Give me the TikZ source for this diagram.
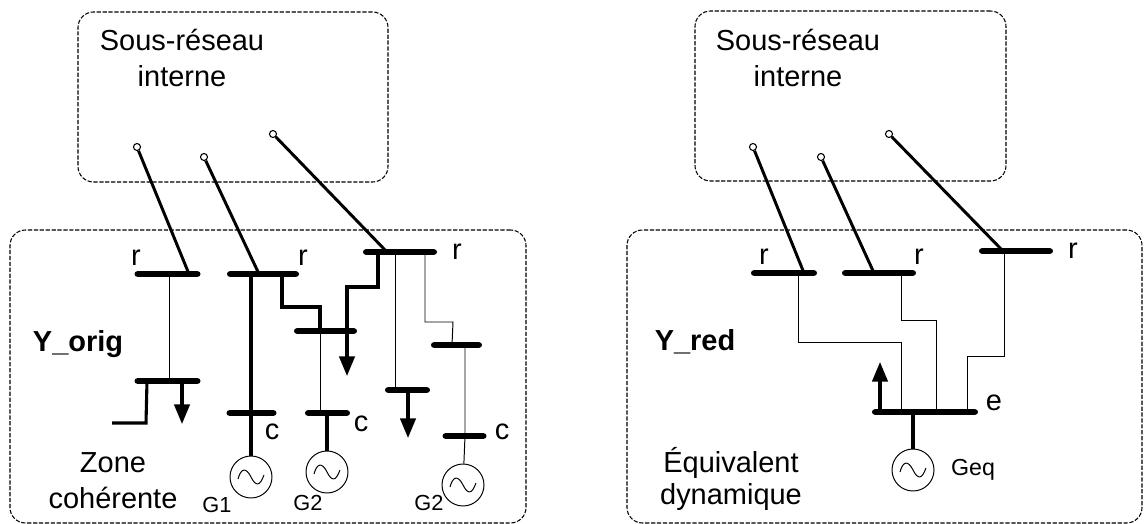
\documentclass[tikz,border=0pt]{standalone}
\usepackage{fontspec}
\setmainfont{Liberation Sans}
\usetikzlibrary{arrows.meta}
\tikzset{
  box/.style={draw,dashed,dash pattern=on 3pt off 1.2pt,line width=.75pt,rounded corners=11pt,inner sep=0pt},
  bus/.style={fill=black,rounded corners=2pt,inner sep=0pt,minimum height=4pt,minimum width=#1*.025cm},
  term/.style={circle,draw,fill=white,line width=.75pt,inner sep=0pt,minimum size=5pt},
  gen/.style={circle,draw,line width=.7pt,inner sep=0pt,minimum size=42*.025cm,
    path picture={\draw[line width=.7pt] (path picture bounding box.center) ++(-13,2)
      .. controls +(3,-11) and +(-5,-10) .. ++(13,-2)
      .. controls +(5,10) and +(-4,11) .. ++(13,-2);}},
  txt/.style={inner sep=0pt,font=\fontsize{20.6}{24}\selectfont},
  small/.style={inner sep=0pt,font=\fontsize{15.5}{18}\selectfont},
  feeder/.style={line width=2.1pt},
  heavy/.style={line width=2.2pt},
  light/.style={line width=.7pt},
  load/.style={line width=2.2pt,-{Triangle[length=14pt,width=11pt]}}
}
\begin{document}
\begin{tikzpicture}[x=.025cm,y=-.025cm]
  \useasboundingbox (0,0) rectangle (1144,524);

  % left side
  \node[box,minimum width=310*.025cm,minimum height=170*.025cm] (sub1) at (233,97) {};
  \node[box,minimum width=516*.025cm,minimum height=293*.025cm] (zone1) at (268,376.5) {};
  \node[txt] (sub1a) at (182,40) {Sous-réseau};
  \node[txt] (sub1b) at (182,76) {interne};

  \node[term] (t1) at (137,147) {};
  \node[term] (t2) at (204,157) {};
  \node[term] (t3) at (273,134) {};

  \node[bus=66] (r1) at (167.5,274) {};
  \node[bus=72] (r2) at (263,274) {};
  \node[bus=74] (r3) at (400,252) {};
  \node[bus=66] (m1) at (167.5,381) {};
  \node[bus=63] (m2) at (325.5,331) {};
  \node[bus=45] (m3) at (407.5,390) {};
  \node[bus=51] (m4) at (456.5,345) {};
  \node[bus=50] (c1) at (251.5,413) {};
  \node[bus=45] (c2) at (327.5,413) {};
  \node[bus=44] (c3) at (464.5,436) {};

  \node[gen] (g1) at (251,477) {};
  \node[gen] (g2) at (327,472) {};
  \node[gen] (g3) at (463,485) {};

  \coordinate (e1) at (112,423);
  \coordinate (l1) at (182,424);
  \coordinate (l2) at (347,376);
  \coordinate (l3) at (408,438);

  \draw[feeder] (t1) -- (189,0 |- r1);
  \draw[feeder] (t2) -- (259,0 |- r2);
  \draw[feeder] (t3) -- (387,0 |- r3);

  \draw[light] (169,0 |- r1) -- (169,0 |- m1);
  \draw[heavy] (147,0 |- m1) -- (146,423) -- (e1);
  \draw[load] (182,0 |- m1) -- (l1);
  \draw[heavy] (251,0 |- r2) -- (g1);
  \draw[heavy] (282,0 |- r2) -- (282,307) -- (320,307) -- (320,0 |- m2);
  \draw[light] (320,0 |- m2) -- (320,0 |- c2);
  \draw[heavy] (327,0 |- c2) -- (g2);
  \draw[heavy] (378,0 |- r3) -- (378,287) -- (347,287) -- (347,0 |- m2);
  \draw[load] (347,0 |- m2) -- (l2);
  \draw[light] (395,0 |- r3) -- (395,0 |- m3);
  \draw[load] (408,0 |- m3) -- (l3);
  \draw[light] (425,0 |- r3) -- (425,322) -- (453,322) -- (452,0 |- m4);
  \draw[light] (465,0 |- m4) -- (465,0 |- c3) -- (g3);

  \node[txt] (lr1) at (136,258) {r};
  \node[txt] (lr2) at (303,258) {r};
  \node[txt] (lr3) at (457,252) {r};
  \node[txt] (lc1) at (272,432) {c};
  \node[txt] (lc2) at (361,424) {c};
  \node[txt] (lc3) at (502,432) {c};
  \node[small] (lg1) at (217,505) {G1};
  \node[small] (lg2) at (308,503) {G2};
  \node[small] (lg3) at (429,503) {G2};
  \node[txt,font=\fontsize{20.6}{24}\selectfont\bfseries] (orig) at (78,344) {Y\_orig};
  \node[txt] (zn1) at (113,463) {Zone};
  \node[txt] (zn2) at (113,498) {cohérente};

  % right side
  \node[box,minimum width=311*.025cm,minimum height=170*.025cm] (sub2) at (850.5,96) {};
  \node[box,minimum width=515*.025cm,minimum height=293*.025cm] (zone2) at (884.5,376.5) {};
  \node[txt] (sub2a) at (798,40) {Sous-réseau};
  \node[txt] (sub2b) at (798,76) {interne};

  \node[term] (t4) at (753,147) {};
  \node[term] (t5) at (821,157) {};
  \node[term] (t6) at (889,134) {};

  \node[bus=66] (r4) at (784,273) {};
  \node[bus=74] (r5) at (879,273) {};
  \node[bus=74] (r6) at (1016,251) {};
  \node[bus=106] (eq) at (925,412) {};
  \node[gen] (g4) at (913,470) {};
  \coordinate (l4) at (880,362);

  \draw[feeder] (t4) -- (804,0 |- r4);
  \draw[feeder] (t5) -- (874,0 |- r5);
  \draw[feeder] (t6) -- (1003,0 |- r6);

  \draw[light] (798,0 |- r4) -- (798,342) -- (901,342) -- (901,0 |- eq);
  \draw[light] (901,0 |- r5) -- (901,320) -- (936,320) -- (936,0 |- eq);
  \draw[light] (1004,0 |- r6) -- (1004,356) -- (967,356) -- (967,0 |- eq);
  \draw[load] (880,0 |- eq) -- (l4);
  \draw[heavy] (913,0 |- eq) -- (g4);

  \node[txt] (lr4) at (764,257) {r};
  \node[txt] (lr5) at (919,257) {r};
  \node[txt] (lr6) at (1073,251) {r};
  \node[txt] (le) at (994,403) {e};
  \node[small,font=\fontsize{16.5}{18}\selectfont] (lg4) at (973,470) {Geq};
  \node[txt,font=\fontsize{20.6}{24}\selectfont\bfseries] (red) at (695,342) {Y\_red};
  \node[txt] (eq1) at (731,463) {Équivalent};
  \node[txt] (eq2) at (731,497) {dynamique};
\end{tikzpicture}
\end{document}
